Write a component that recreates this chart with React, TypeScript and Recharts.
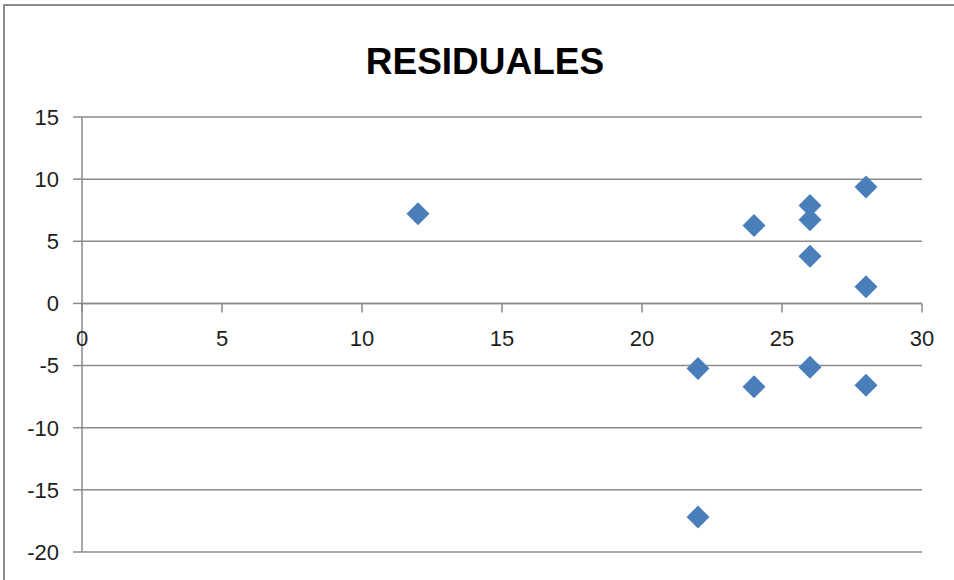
import React from "react";
import {
  ScatterChart,
  Scatter,
  XAxis,
  YAxis,
  CartesianGrid,
  ReferenceLine,
} from "recharts";

const chartTitle = "RESIDUALES";
const xValues = [12, 22, 22, 24, 24, 26, 26, 26, 26, 28, 28, 28];
const residuals = [7.22, -5.24, -17.19, 6.28, -6.71, 7.88, 6.74, 3.8, -5.13, 9.36, 1.34, -6.58];
const xTicks = [0, 5, 10, 15, 20, 25, 30];
const yTicks = [-20, -15, -10, -5, 0, 5, 10, 15];

const data = xValues.map((x, i) => ({ x, y: residuals[i] }));

const W = 954;
const H = 580;
const X_AXIS_H = 28;
const MARGIN = { top: 117, right: 32, bottom: 0, left: 0 };
const Y_MIN = yTicks[0];
const Y_MAX = yTicks[yTicks.length - 1];
const PLOT_H = H - MARGIN.top - MARGIN.bottom - X_AXIS_H;
const AXIS_COLOR = "#8a8a8a";
const TEXT_COLOR = "#1e1e1e";
const FONT = "'Liberation Sans', Arial, sans-serif";
const MARK_COLOR = "#4A7EBB";
const TICK_FONT = 22;

const XTick = (props: any) => {
  const { x, y, payload } = props;
  const zeroY = y - (PLOT_H * (0 - Y_MIN)) / (Y_MAX - Y_MIN);
  return (
    <g>
      <line x1={x} x2={x} y1={zeroY} y2={zeroY + 9} stroke={AXIS_COLOR} strokeWidth={1.5} />
      <text
        x={x}
        y={zeroY + 43}
        textAnchor="middle"
        fontSize={TICK_FONT}
        fontFamily={FONT}
        fill={TEXT_COLOR}
      >
        {payload.value}
      </text>
    </g>
  );
};

const Diamond = (props: any) => {
  const { cx, cy } = props;
  const r = 11.5;
  return (
    <path
      d={`M${cx},${cy - r}L${cx + r},${cy}L${cx},${cy + r}L${cx - r},${cy}Z`}
      fill={MARK_COLOR}
    />
  );
};

export default function App() {
  return (
    <div style={{ position: "absolute", left: 0, top: 0, width: W, height: H, overflow: "hidden", background: "#fff" }}>
      <div
        style={{
          position: "absolute",
          left: 3,
          top: 4,
          width: W + 20,
          height: H + 20,
          borderTop: "2px solid #8c8c8c",
          borderLeft: "2px solid #8c8c8c",
        }}
      />
      <div
        style={{
          position: "absolute",
          left: 0,
          top: 43,
          width: 970,
          textAlign: "center",
          fontFamily: FONT,
          fontWeight: "bold",
          fontSize: 37,
          lineHeight: "37px",
          color: "#000",
        }}
      >
        {chartTitle}
      </div>
      <div style={{ position: "absolute", left: 0, top: 0 }}>
        <ScatterChart width={W} height={H} margin={MARGIN}>
          <CartesianGrid horizontal={true} vertical={false} stroke={AXIS_COLOR} strokeWidth={1.5} />
          <XAxis
            type="number"
            dataKey="x"
            domain={[xTicks[0], xTicks[xTicks.length - 1]]}
            ticks={xTicks}
            interval={0}
            height={X_AXIS_H}
            axisLine={false}
            tickLine={false}
            tickSize={0}
            tickMargin={0}
            tick={(p: any) => <XTick {...p} />}
          />
          <YAxis
            type="number"
            dataKey="y"
            domain={[Y_MIN, Y_MAX]}
            ticks={yTicks}
            interval={0}
            width={82}
            axisLine={{ stroke: AXIS_COLOR, strokeWidth: 1.5 }}
            tickLine={{ stroke: AXIS_COLOR, strokeWidth: 1.5 }}
            tickSize={9}
            tickMargin={14}
            tick={{ fontSize: TICK_FONT, fontFamily: FONT, fill: TEXT_COLOR }}
          />
          <ReferenceLine y={0} stroke={AXIS_COLOR} strokeWidth={1.5} />
          <Scatter data={data} shape={<Diamond />} isAnimationActive={false} />
        </ScatterChart>
      </div>
    </div>
  );
}
